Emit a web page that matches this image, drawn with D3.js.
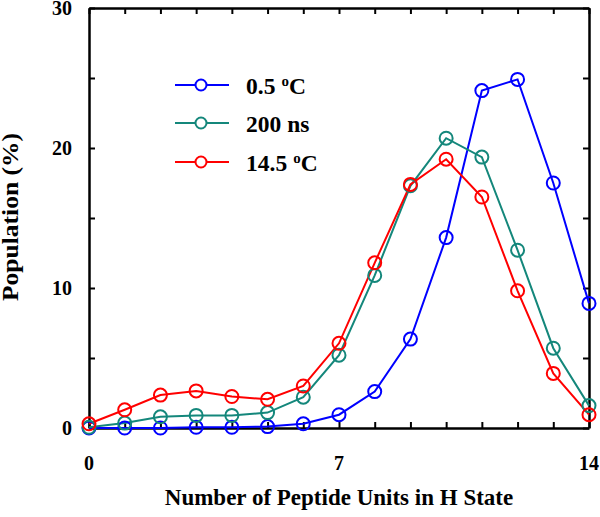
<!DOCTYPE html>
<html>
<head>
<meta charset="utf-8">
<script src="https://cdn.jsdelivr.net/npm/d3@7"></script>
<style>
  body { margin: 0; background: #fff; }
  svg { display: block; }
  text { font-family: "Liberation Serif", "Times New Roman", serif; font-weight: bold; fill: #000; }
</style>
</head>
<body>
<svg id="chart" width="600" height="517"></svg>
<script>
const units = [0,1,2,3,4,5,6,7,8,9,10,11,12,13,14];
const series = [
  { name: "0.5", sup: "o", unit: "C", color: "#0000ff",
    values: [0.0,0.0,0.0,0.05,0.05,0.1,0.3,0.95,2.6,6.35,13.6,24.1,24.9,17.5,8.9] },
  { name: "200 ns", sup: "", unit: "", color: "#14877b",
    values: [0.05,0.35,0.8,0.9,0.9,1.1,2.2,5.2,10.9,17.3,20.7,19.35,12.7,5.7,1.6] },
  { name: "14.5", sup: "o", unit: "C", color: "#ff0000",
    values: [0.3,1.3,2.35,2.65,2.25,2.05,3.0,6.05,11.8,17.4,19.2,16.5,9.8,3.9,0.95] }
];
const xTickLabels = [0, 7, 14];
const yTickLabels = [0, 10, 20, 30];
const yMinorTicks = [5, 15, 25];

const svg = d3.select("#chart");
const m = { left: 89, right: 589, top: 8, bottom: 428 };
const x = d3.scaleLinear().domain([0, 14]).range([m.left, m.right]);
const y = d3.scaleLinear().domain([0, 30]).range([m.bottom, m.top]);

const tickLen = 6;
const gB = svg.append("g").attr("transform", `translate(0,${m.bottom})`)
  .call(d3.axisBottom(x).tickValues(units).tickSizeInner(-tickLen).tickSizeOuter(0).tickFormat(""));
const gT = svg.append("g").attr("transform", `translate(0,${m.top})`)
  .call(d3.axisTop(x).tickValues(units).tickSizeInner(-tickLen).tickSizeOuter(0).tickFormat(""));
const gL = svg.append("g").attr("transform", `translate(${m.left},0)`)
  .call(d3.axisLeft(y).tickValues(yTickLabels.concat(yMinorTicks)).tickSizeInner(-tickLen).tickSizeOuter(0).tickFormat(""));
const gR = svg.append("g").attr("transform", `translate(${m.right},0)`)
  .call(d3.axisRight(y).tickValues(yTickLabels.concat(yMinorTicks)).tickSizeInner(-tickLen).tickSizeOuter(0).tickFormat(""));

[gB, gT, gL, gR].forEach(g => {
  g.selectAll("path.domain").attr("stroke", "#000").attr("stroke-width", 2.5);
  g.selectAll(".tick line").attr("stroke", "#000").attr("stroke-width", 2);
});

// Tick labels
svg.append("g").selectAll("text").data(xTickLabels).join("text")
  .attr("x", d => x(d)).attr("y", 470)
  .attr("text-anchor", "middle").attr("font-size", 20)
  .text(d => d);
svg.append("g").selectAll("text").data(yTickLabels).join("text")
  .attr("x", 72).attr("y", d => y(d) + 7)
  .attr("text-anchor", "end").attr("font-size", 20)
  .text(d => d);

// Axis titles
svg.append("text").attr("x", 339).attr("y", 505)
  .attr("text-anchor", "middle").attr("font-size", 23)
  .text("Number of Peptide Units in H State");
svg.append("text")
  .attr("transform", `translate(18,${(m.top + m.bottom) / 2 - 1}) rotate(-90)`)
  .attr("text-anchor", "middle").attr("font-size", 22.5)
  .attr("textLength", 168).attr("lengthAdjust", "spacingAndGlyphs")
  .text("Population (%)");

// Lines & markers
const line = d3.line().x((d, i) => x(units[i])).y(d => y(d));
series.forEach(s => {
  svg.append("path").datum(s.values)
    .attr("d", line).attr("fill", "none")
    .attr("stroke", s.color).attr("stroke-width", 2);
});
series.forEach(s => {
  svg.append("g").selectAll("circle").data(s.values).join("circle")
    .attr("cx", (d, i) => x(units[i])).attr("cy", d => y(d))
    .attr("r", 6.5).attr("fill", "none")
    .attr("stroke", s.color).attr("stroke-width", 2);
});

// Legend
const legY = [85, 123, 162];
series.forEach((s, i) => {
  const g = svg.append("g").attr("transform", `translate(0,${legY[i]})`);
  g.append("line").attr("x1", 175).attr("x2", 229).attr("y1", 0).attr("y2", 0)
    .attr("stroke", s.color).attr("stroke-width", 2);
  g.append("circle").attr("cx", 201).attr("cy", 0).attr("r", 5.5)
    .attr("fill", "#fff").attr("stroke", s.color).attr("stroke-width", 2);
  const t = g.append("text").attr("x", 246).attr("y", 8.5).attr("font-size", 23.5);
  t.append("tspan").text(s.name);
  if (s.sup) {
    t.append("tspan").attr("dx", 6).attr("dy", -8).attr("font-size", 15).text(s.sup);
    t.append("tspan").attr("dy", 8).text(s.unit);
  }
});
</script>
</body>
</html>
